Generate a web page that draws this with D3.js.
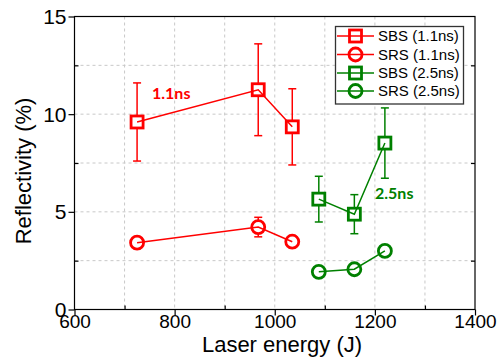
<!DOCTYPE html>
<html>
<head>
<meta charset="utf-8">
<script src="https://cdn.jsdelivr.net/npm/d3@7"></script>
<style>
  html, body { margin: 0; padding: 0; background: #fff; }
  svg { display: block; font-family: "Liberation Sans", Arial, sans-serif; }
</style>
</head>
<body>
<svg id="chart" width="503" height="364"></svg>
<script>
// Laser energy (J) for the two pulse durations
const energy11 = [725, 967, 1035];
const energy25 = [1088, 1159, 1220];

// Reflectivity (%) and error half-widths
const sbs11 = [9.6, 11.25, 9.35];
const sbs11Err = [2.0, 2.35, 1.95];
const srs11 = [3.42, 4.22, 3.47];
const srs11Err = [0.3, 0.5, 0.3];
const sbs25 = [5.65, 4.88, 8.52];
const sbs25Err = [1.17, 1.0, 1.8];
const srs25 = [1.93, 2.06, 3.0];
const srs25Err = [0, 0, 0];

const xMajor = [600, 800, 1000, 1200, 1400];
const xMinor = [700, 900, 1100, 1300];
const yMajor = [0, 5, 10, 15];
const yMinor = [2.5, 7.5, 12.5];

const seriesNames = ["SBS (1.1ns)", "SRS (1.1ns)", "SBS (2.5ns)", "SRS (2.5ns)"];
const RED = "#ff0000", GREEN = "#008000";

const series = [
  { name: seriesNames[0], x: energy11, y: sbs11, err: sbs11Err, color: RED, shape: "square" },
  { name: seriesNames[1], x: energy11, y: srs11, err: srs11Err, color: RED, shape: "circle" },
  { name: seriesNames[2], x: energy25, y: sbs25, err: sbs25Err, color: GREEN, shape: "square" },
  { name: seriesNames[3], x: energy25, y: srs25, err: srs25Err, color: GREEN, shape: "circle" }
];

const svg = d3.select("#chart");
const L = 74.5, R = 475, T = 16.5, B = 309.5;

const x = d3.scaleLinear().domain([600, 1400]).range([L, R]);
const y = d3.scaleLinear().domain([0, 15]).range([B, T]);

// dashed grid
const grid = svg.append("g").attr("stroke", "#c8c8c8").attr("stroke-width", 1)
  .attr("stroke-dasharray", "3,3");
grid.selectAll(".gx").data(xMajor.concat(xMinor).filter(v => v > 600 && v < 1400))
  .join("line").attr("x1", d => x(d)).attr("x2", d => x(d)).attr("y1", T).attr("y2", B);
grid.selectAll(".gy").data(yMajor.concat(yMinor).filter(v => v > 0 && v < 15))
  .join("line").attr("x1", L).attr("x2", R).attr("y1", d => y(d)).attr("y2", d => y(d));

// frame
svg.append("rect").attr("x", L).attr("y", T).attr("width", R - L).attr("height", B - T)
  .attr("fill", "none").attr("stroke", "#000").attr("stroke-width", 1.2);

// axes
const bottomMajor = svg.append("g").attr("transform", `translate(0,${B})`)
  .call(d3.axisBottom(x).tickValues(xMajor).tickSize(6).tickSizeOuter(0).tickFormat(d3.format("d")));
const bottomMinor = svg.append("g").attr("transform", `translate(0,${B})`)
  .call(d3.axisTop(x).tickValues(xMinor).tickSize(4).tickSizeOuter(0).tickFormat(""));
const leftMajor = svg.append("g").attr("transform", `translate(${L},0)`)
  .call(d3.axisLeft(y).tickValues(yMajor).tickSize(6).tickSizeOuter(0).tickFormat(d3.format("d")));
const leftMinor = svg.append("g").attr("transform", `translate(${L},0)`)
  .call(d3.axisRight(y).tickValues(yMinor).tickSize(4).tickSizeOuter(0).tickFormat(""));
const rightTicks = svg.append("g").attr("transform", `translate(${R},0)`)
  .call(d3.axisLeft(y).tickValues(yMinor).tickSize(4).tickSizeOuter(0).tickFormat(""));

[bottomMajor, bottomMinor, leftMajor, leftMinor, rightTicks].forEach(g => {
  g.select(".domain").remove();
  g.selectAll(".tick line").attr("stroke", "#000").attr("stroke-width", 1.2);
  g.selectAll("text").attr("fill", "#000")
    .attr("font-family", "'Liberation Sans', Arial, sans-serif");
});
bottomMajor.selectAll("text").attr("font-size", "19px").attr("dy", "0.71em").attr("y", 5);
leftMajor.selectAll("text").attr("font-size", "21px").attr("x", -8).attr("dy", "0.34em");

// axis titles
svg.append("text").attr("x", 282).attr("y", 352).attr("text-anchor", "middle")
  .attr("font-size", "22px").text("Laser energy (J)");
svg.append("text").attr("transform", `translate(31,171) rotate(-90)`)
  .attr("text-anchor", "middle").attr("font-size", "22px").text("Reflectivity (%)");

// series
const capW = 4;
function marker(g, shape, color, cx, cy) {
  if (shape === "square") {
    g.append("rect").attr("x", cx - 6).attr("y", cy - 6).attr("width", 12).attr("height", 12)
      .attr("fill", "#fff").attr("stroke", color).attr("stroke-width", 2.8);
  } else {
    g.append("circle").attr("cx", cx).attr("cy", cy).attr("r", 6.5)
      .attr("fill", "#fff").attr("stroke", color).attr("stroke-width", 2.8);
  }
}

const line = d3.line().x(d => x(d[0])).y(d => y(d[1]));

series.forEach(s => {
  const g = svg.append("g");
  const pts = s.x.map((v, i) => [v, s.y[i], s.err[i]]);
  // error bars
  pts.filter(p => p[2] > 0).forEach(p => {
    const cx = x(p[0]), y1 = y(p[1] + p[2]), y2 = y(p[1] - p[2]);
    g.append("line").attr("x1", cx).attr("x2", cx).attr("y1", y1).attr("y2", y2)
      .attr("stroke", s.color).attr("stroke-width", 1.5);
    [y1, y2].forEach(yy => g.append("line").attr("x1", cx - capW).attr("x2", cx + capW)
      .attr("y1", yy).attr("y2", yy).attr("stroke", s.color).attr("stroke-width", 1.5));
  });
  pts.forEach(p => marker(g, s.shape, s.color, x(p[0]), y(p[1])));
  g.append("path").datum(pts).attr("d", line).attr("fill", "none")
    .attr("stroke", s.color).attr("stroke-width", 1.5);
});

// duration labels
svg.append("text").attr("x", 152).attr("y", 99).attr("fill", RED)
  .attr("font-family", "Lato, 'Open Sans', sans-serif").attr("font-weight", "bold")
  .attr("font-size", "16px").text("1.1ns");
svg.append("text").attr("x", 375).attr("y", 199).attr("fill", GREEN)
  .attr("font-family", "Lato, 'Open Sans', sans-serif").attr("font-weight", "bold")
  .attr("font-size", "16px").text("2.5ns");

// legend
const lg = svg.append("g");
lg.append("rect").attr("x", 335.5).attr("y", 26.5).attr("width", 128).attr("height", 77.5)
  .attr("fill", "#fff").attr("stroke", "#333").attr("stroke-width", 1.3);
const rowY = [36, 54.5, 73, 91];
series.forEach((s, i) => {
  const ry = rowY[i];
  lg.append("line").attr("x1", 337).attr("x2", 374).attr("y1", ry).attr("y2", ry)
    .attr("stroke", s.color).attr("stroke-width", 1.5);
  marker(lg, s.shape, s.color, 355.5, ry);
  lg.append("line").attr("x1", 350).attr("x2", 361).attr("y1", ry).attr("y2", ry)
    .attr("stroke", s.color).attr("stroke-width", 1.5);
  lg.append("text").attr("x", 378).attr("y", ry).attr("dy", "0.36em")
    .attr("font-size", "15px").text(s.name);
});
</script>
</body>
</html>
